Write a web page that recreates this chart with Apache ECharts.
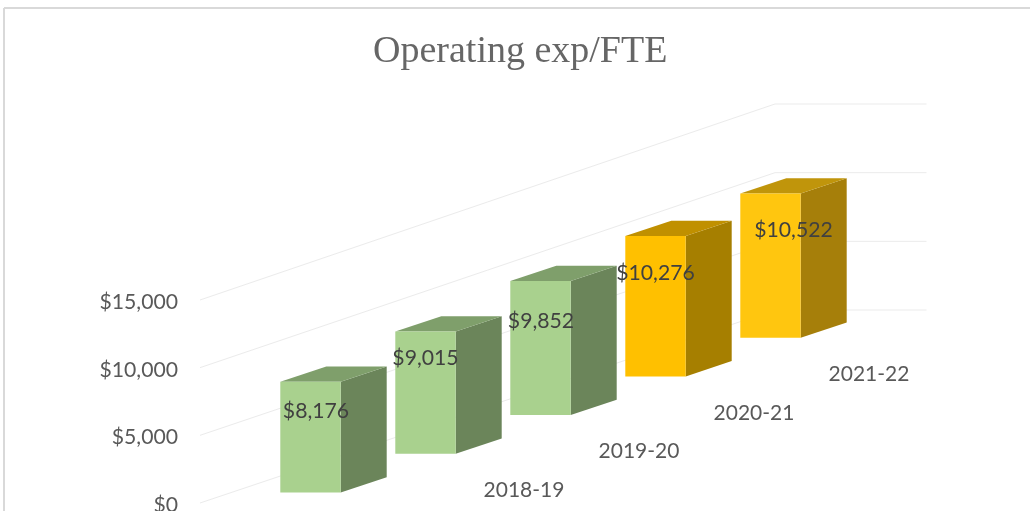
<!DOCTYPE html>
<html>
<head>
<meta charset="utf-8">
<style>html,body{margin:0;padding:0;background:#fff}#c{width:1030px;height:511px}</style>
<script src="https://cdn.jsdelivr.net/npm/echarts@6/dist/echarts.min.js"></script>
</head>
<body>
<div id="c"></div>
<script>
const categories = ['2017-18', '2018-19', '2019-20', '2020-21', '2021-22'];
const values = [8176, 9015, 9852, 10276, 10522];
const valueTicks = [0, 5000, 10000, 15000];

// layout and styling of the oblique (pseudo-3D) projection
const frontFaces = ['#A9D18E', '#A9D18E', '#A9D18E', '#FFC000', '#FFC60F'];
const topFaces = ['#7F9F6B', '#7F9F6B', '#7F9F6B', '#C09000', '#C0950B'];
const sideFaces = ['#6B855A', '#6B855A', '#6B855A', '#A67F00', '#A67F0A'];
const labelShift = [[5.5, 29], [0, 27], [0.5, 40], [0, 37], [23, 36.5]];
const STEP_RISE = 38.7, BASE_LIFT = 10.5, BAR_W = 60.4, DEPTH_X = 46, DEPTH_Y = 15.3;

function baseY(api, i) { return api.coord([i, 0])[1] - BASE_LIFT - STEP_RISE * i; }

const chart = echarts.init(document.getElementById('c'), null, { renderer: 'canvas' });
chart.setOption({
  animation: false,
  backgroundColor: '#fff',
  title: {
    text: 'Operating exp/FTE', left: 368, top: 28,
    textStyle: { fontFamily: 'Liberation Serif', fontSize: 38, fontWeight: 'normal', color: '#666666' }
  },
  grid: { left: 253, width: 575, top: 300, height: 203, outerBoundsMode: 'none' },
  xAxis: { type: 'category', data: categories, show: false },
  yAxis: {
    type: 'value', min: 0, max: 15000, interval: 5000, offset: 75,
    axisLine: { show: false }, axisTick: { show: false }, splitLine: { show: false },
    axisLabel: {
      margin: 0, fontFamily: 'Lato', fontSize: 21.2, color: '#595959',
      verticalAlign: 'top', lineHeight: 4,
      formatter: v => '$' + v.toLocaleString('en-US')
    }
  },
  graphic: [
    { type: 'line', silent: true, shape: { x1: 4, y1: 8, x2: 1030, y2: 8 }, style: { stroke: '#D9D9D9', lineWidth: 2 } },
    { type: 'line', silent: true, shape: { x1: 4, y1: 8, x2: 4, y2: 511 }, style: { stroke: '#D9D9D9', lineWidth: 2 } }
  ],
  series: [
    {
      type: 'custom', silent: true, z: 1,
      coordinateSystem: 'cartesian2d',
      data: valueTicks.map(v => [0, v]),
      renderItem(params, api) {
        const p = api.coord([0, api.value(1)]);
        const y0 = api.coord([0, 0])[1];
        const backY = y0 - 193 - (y0 - p[1]) * 1.0148;
        return {
          type: 'polyline',
          shape: { points: [[p[0] - 110.5, p[1]], [p[0] + 464.5, backY], [p[0] + 616, backY]] },
          style: { stroke: '#EBEBEB', lineWidth: 1, fill: null }
        };
      }
    },
    {
      type: 'custom', silent: true, z: 2,
      coordinateSystem: 'cartesian2d',
      data: values.map((v, i) => [i, v]),
      renderItem(params, api) {
        const i = api.value(0);
        const cx = api.coord([i, 0])[0];
        const b = baseY(api, i);
        const h = (api.coord([i, 0])[1] - api.coord([i, api.value(1)])[1]) * (1 + 0.003 * i);
        const l = cx - BAR_W / 2, r = cx + BAR_W / 2, t = b - h;
        return {
          type: 'group',
          children: [
            { type: 'polygon', shape: { points: [[r, t], [r + DEPTH_X, t - DEPTH_Y], [r + DEPTH_X, b - DEPTH_Y], [r, b]] }, style: { fill: sideFaces[i] } },
            { type: 'polygon', shape: { points: [[l, t], [l + DEPTH_X, t - DEPTH_Y], [r + DEPTH_X, t - DEPTH_Y], [r, t]] }, style: { fill: topFaces[i] } },
            { type: 'rect', shape: { x: l, y: t, width: BAR_W, height: h }, style: { fill: frontFaces[i] } }
          ]
        };
      }
    },
    {
      type: 'custom', silent: true, z: 3,
      coordinateSystem: 'cartesian2d',
      data: values.map((v, i) => [i, v]),
      renderItem(params, api) {
        const i = api.value(0);
        const cx = api.coord([i, 0])[0];
        const b = baseY(api, i);
        const h = (api.coord([i, 0])[1] - api.coord([i, api.value(1)])[1]) * (1 + 0.003 * i);
        return {
          type: 'group',
          children: [
            {
              type: 'text',
              style: {
                x: cx + labelShift[i][0], y: b - h + labelShift[i][1],
                text: '$' + api.value(1).toLocaleString('en-US'),
                align: 'center', verticalAlign: 'middle',
                font: '21.2px Lato', fill: '#404040'
              }
            },
            {
              type: 'text',
              style: {
                x: cx + 98.5, y: b + 36.5,
                text: categories[i],
                align: 'center', verticalAlign: 'middle',
                font: '21px Lato', fill: '#595959'
              }
            }
          ]
        };
      }
    }
  ]
});
</script>
</body>
</html>
